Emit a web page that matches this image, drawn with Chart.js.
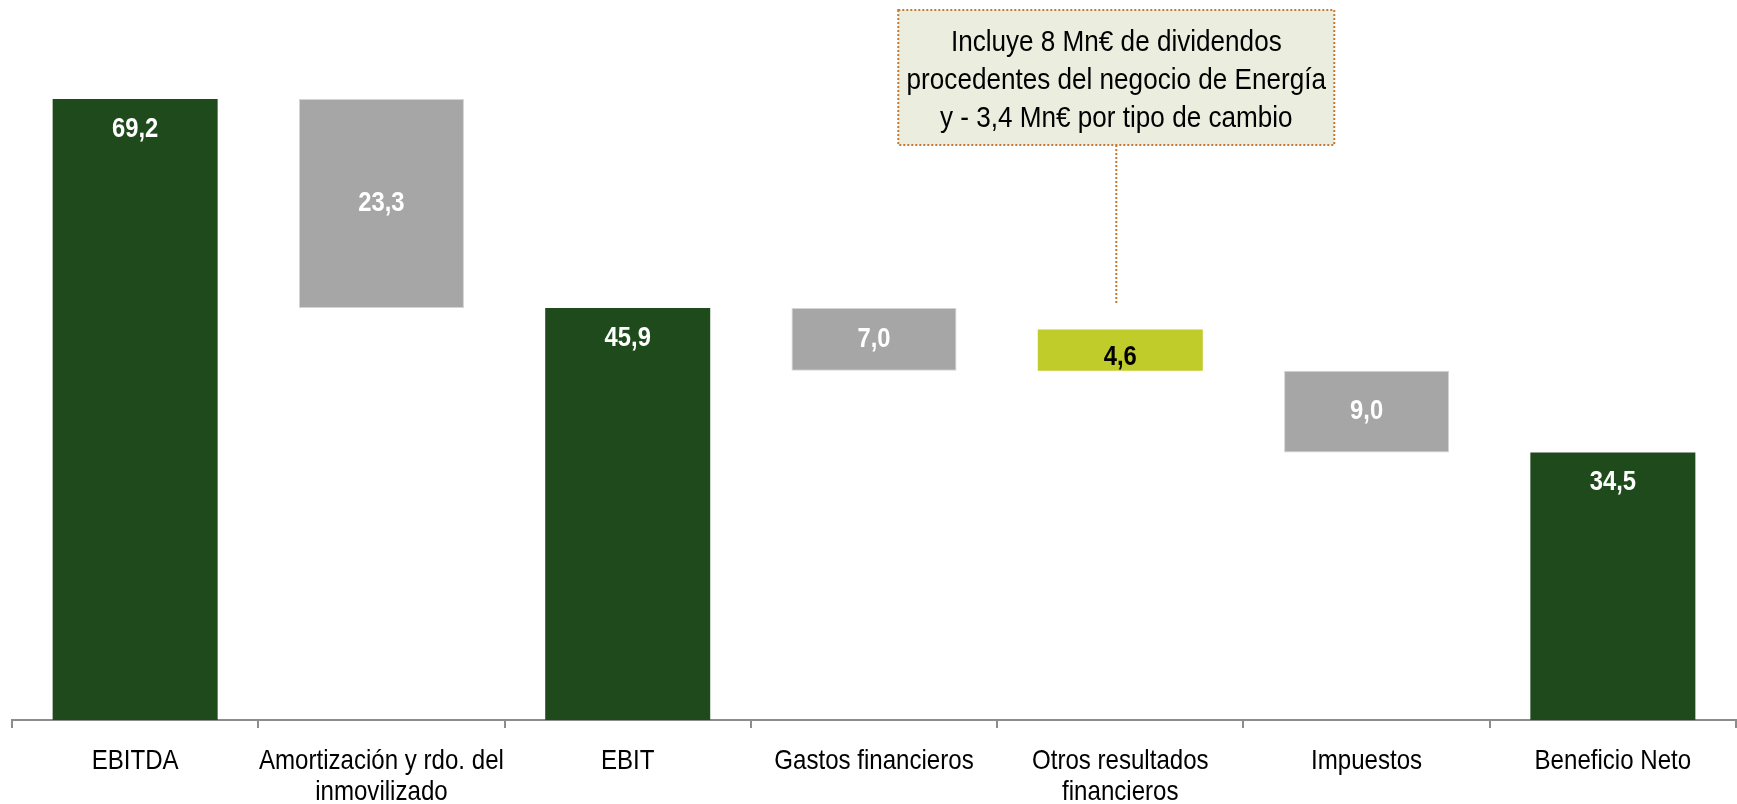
<!DOCTYPE html>
<html>
<head>
<meta charset="utf-8">
<script src="https://cdn.jsdelivr.net/npm/chart.js@4"></script>
<style>
  html, body { margin: 0; padding: 0; background: #fff; }
  #wrap { width: 1737px; height: 804px; }
</style>
</head>
<body>
<div id="wrap"><canvas id="waterfall"></canvas></div>
<script>
// categories and values
const categories = ['EBITDA', ['Amortización y rdo. del', 'inmovilizado'], 'EBIT', 'Gastos financieros', ['Otros resultados', 'financieros'], 'Impuestos', 'Beneficio Neto'];
const amounts = [69.2, 23.3, 45.9, 7.0, 4.6, 9.0, 34.5];
// floating bar ends as they are drawn in the picture
const barBase = [0, 45.9, 0, 38.9, 38.9, 29.8, 0];
const barTop = [69.2, 69.2, 45.9, 45.9, 43.5, 38.9, 29.8];
const barKind = ['total', 'minus', 'total', 'minus', 'plus', 'minus', 'total'];
const noteLines = ['Incluye 8 Mn€ de dividendos', 'procedentes del negocio de Energía', 'y - 3,4 Mn€ por tipo de cambio'];
const noteIndex = 4;

const FONT = "'Liberation Sans', Arial, sans-serif";
const colors = { total: '#1F4A1C', minus: '#A6A6A6', plus: '#C0CC29' };

// squeeze text sideways, the original uses Arial Narrow
function narrowText(ctx, text, x, y, sx) {
    ctx.save();
    ctx.translate(x, y);
    ctx.scale(sx, 1);
    ctx.fillText(text, 0, 0);
    ctx.restore();
}

const barLabels = {
    id: 'barLabels',
    afterDatasetsDraw(chart) {
        const ctx = chart.ctx;
        const meta = chart.getDatasetMeta(0);
        ctx.save();
        ctx.font = 'bold 28px ' + FONT;
        ctx.textAlign = 'center';
        ctx.textBaseline = 'middle';
        meta.data.forEach((bar, i) => {
            const top = Math.min(bar.y, bar.base);
            const bottom = Math.max(bar.y, bar.base);
            let y = (top + bottom) / 2;
            if (barKind[i] === 'total') y = top + 30;
            if (barKind[i] === 'plus') y += 7;
            ctx.fillStyle = barKind[i] === 'plus' ? '#000' : '#fff';
            narrowText(ctx, amounts[i].toFixed(1).replace('.', ','), bar.x, y, 0.85);
        });
        ctx.restore();
    }
};

const categoryLabels = {
    id: 'categoryLabels',
    afterDraw(chart) {
        const ctx = chart.ctx;
        const xs = chart.scales.x;
        ctx.save();
        ctx.font = '28px ' + FONT;
        ctx.fillStyle = '#000';
        ctx.textAlign = 'center';
        ctx.textBaseline = 'alphabetic';
        categories.forEach((label, i) => {
            const lines = Array.isArray(label) ? label : [label];
            const x = xs.getPixelForTick(i);
            lines.forEach((line, j) => narrowText(ctx, line, x, xs.top + 49 + j * 31, 0.86));
        });
        ctx.restore();
    }
};

const noteBox = {
    id: 'noteBox',
    afterDraw(chart) {
        const ctx = chart.ctx;
        const bar = chart.getDatasetMeta(0).data[noteIndex];
        const cx = bar.x - 4;
        const w = 436, h = 135, top = 10;
        const left = cx - w / 2;
        ctx.save();
        ctx.fillStyle = '#EBEEDE';
        ctx.fillRect(left, top, w, h);
        ctx.strokeStyle = '#C47A35';
        ctx.lineWidth = 2;
        ctx.setLineDash([2, 2]);
        ctx.strokeRect(left, top, w, h);
        ctx.beginPath();
        ctx.moveTo(cx, top + h);
        ctx.lineTo(cx, Math.min(bar.y, bar.base) - 26);
        ctx.stroke();
        ctx.setLineDash([]);
        ctx.fillStyle = '#000';
        ctx.font = '29px ' + FONT;
        ctx.textAlign = 'center';
        ctx.textBaseline = 'middle';
        noteLines.forEach((line, i) => narrowText(ctx, line, cx, top + 33 + i * 38, 0.9));
        ctx.restore();
    }
};

new Chart(document.getElementById('waterfall'), {
    type: 'bar',
    data: {
        labels: categories,
        datasets: [{
            data: barBase.map((b, i) => [b, barTop[i]]),
            backgroundColor: barKind.map(k => colors[k]),
            borderColor: barKind.map(k => k === 'minus' ? '#D4D4D4' : colors[k]),
            borderWidth: barKind.map(k => k === 'minus' ? 1 : 0),
            borderSkipped: false,
            barPercentage: 0.67,
            categoryPercentage: 1
        }]
    },
    options: {
        responsive: true,
        maintainAspectRatio: false,
        animation: false,
        layout: { padding: { left: 12, right: 1, top: 2, bottom: 0 } },
        plugins: {
            legend: { display: false },
            tooltip: { enabled: false }
        },
        scales: {
            x: {
                grid: {
                    offset: true,
                    drawOnChartArea: false,
                    drawTicks: true,
                    tickLength: 8,
                    color: '#8C8C8C',
                    lineWidth: 2
                },
                border: { display: true, color: '#8C8C8C', width: 2 },
                ticks: {
                    color: 'rgba(0,0,0,0)',
                    font: { family: FONT, size: 20 },
                    maxRotation: 0,
                    autoSkip: false
                },
                afterFit(axis) { axis.height = 84; }
            },
            y: {
                display: false,
                min: 0,
                max: 80
            }
        }
    },
    plugins: [barLabels, categoryLabels, noteBox]
});
</script>
</body>
</html>
